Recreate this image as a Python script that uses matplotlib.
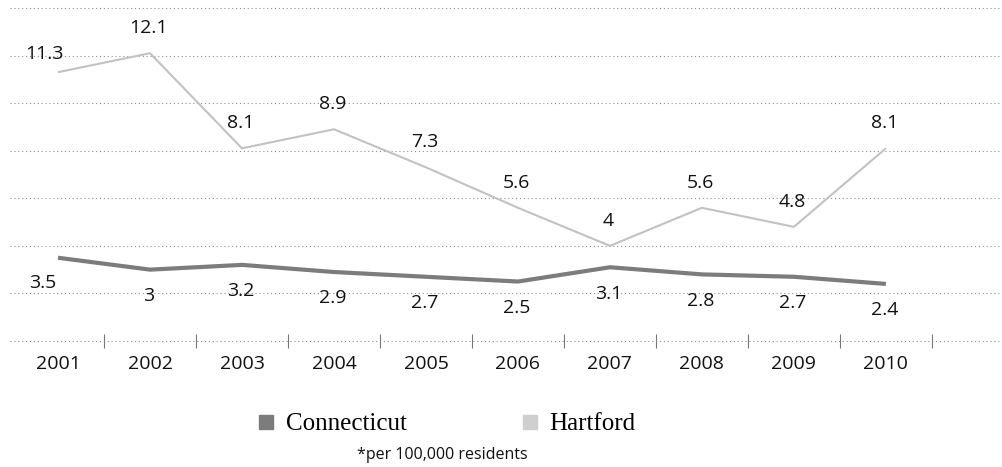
import matplotlib
matplotlib.use('Agg')
import matplotlib.pyplot as plt
from matplotlib.lines import Line2D
from matplotlib.ticker import FixedLocator

# data
years = ['2001', '2002', '2003', '2004', '2005', '2006', '2007', '2008', '2009', '2010']
connecticut = [3.5, 3.0, 3.2, 2.9, 2.7, 2.5, 3.1, 2.8, 2.7, 2.4]
hartford = [11.3, 12.1, 8.1, 8.9, 7.3, 5.6, 4.0, 5.6, 4.8, 8.1]

# label offsets in points (x, y) relative to each point
hart_offsets = [(-10, 13)] + [(-1, 18)] * 9
conn_offsets = [(-11, -18)] + [(-1, -19)] * 9

ct_color = '#7c7c7c'
hf_color = '#c2c2c2'
grid_color = '#8f8f8f'
text_color = '#111111'

fig = plt.figure(figsize=(10.03, 4.67), dpi=100)
ax = fig.add_axes([0.00997, 0.2698, 0.987, 0.7131])

x = list(range(len(years)))
ax.plot(x, hartford, color=hf_color, lw=1.5, solid_capstyle='butt', zorder=3)
ax.plot(x, connecticut, color=ct_color, lw=3.0, solid_capstyle='butt', zorder=3)

for xi, v, off in zip(x, hartford, hart_offsets):
    ax.annotate(f'{v:g}', (xi, v), xytext=off, textcoords='offset points',
                ha='center', va='center', fontsize=14, family='Open Sans', color=text_color)
for xi, v, off in zip(x, connecticut, conn_offsets):
    ax.annotate(f'{v:g}', (xi, v), xytext=off, textcoords='offset points',
                ha='center', va='center', fontsize=14, family='Open Sans', color=text_color)

ax.set_xlim(-0.522, 10.24)
ax.set_ylim(0, 14)

# dotted grid, bottom one doubles as the axis line
ax.set_yticks(range(0, 15, 2))
ax.yaxis.grid(True, color=grid_color, linestyle=(0, (1, 2.5)), lw=0.8)
for gl in ax.yaxis.get_gridlines():
    gl.set_clip_on(False)
ax.set_axisbelow(True)
ax.tick_params(axis='y', left=False, labelleft=False)

for s in ['top', 'right', 'left', 'bottom']:
    ax.spines[s].set_visible(False)

ax.set_xticks(x)
ax.set_xticklabels(years, fontsize=14, family='Open Sans', color=text_color)
ax.tick_params(axis='x', which='major', length=0, pad=10)
ax.xaxis.set_minor_locator(FixedLocator([i + 0.5 for i in x]))
ax.tick_params(axis='x', which='minor', direction='inout', length=10, width=0.8, color='#777777')

handles = [Line2D([], [], ls='none', marker='s', markersize=9.5, markerfacecolor=ct_color,
                  markeredgecolor=ct_color, label='Connecticut'),
           Line2D([], [], ls='none', marker='s', markersize=9.5, markerfacecolor='#cfcfcf',
                  markeredgecolor='#cfcfcf', label='Hartford')]
fig.legend(handles=handles, loc='center', bbox_to_anchor=(0.446, 0.092), ncol=2, frameon=False,
           prop={'family': 'Liberation Serif', 'size': 18}, handlelength=0.6, handletextpad=0.5,
           columnspacing=4.6)

fig.text(0.441, 0.026, '*per 100,000 residents', ha='center', va='center',
         fontsize=11.5, family='Open Sans', color=text_color)

fig.savefig('out.png', dpi=100)
